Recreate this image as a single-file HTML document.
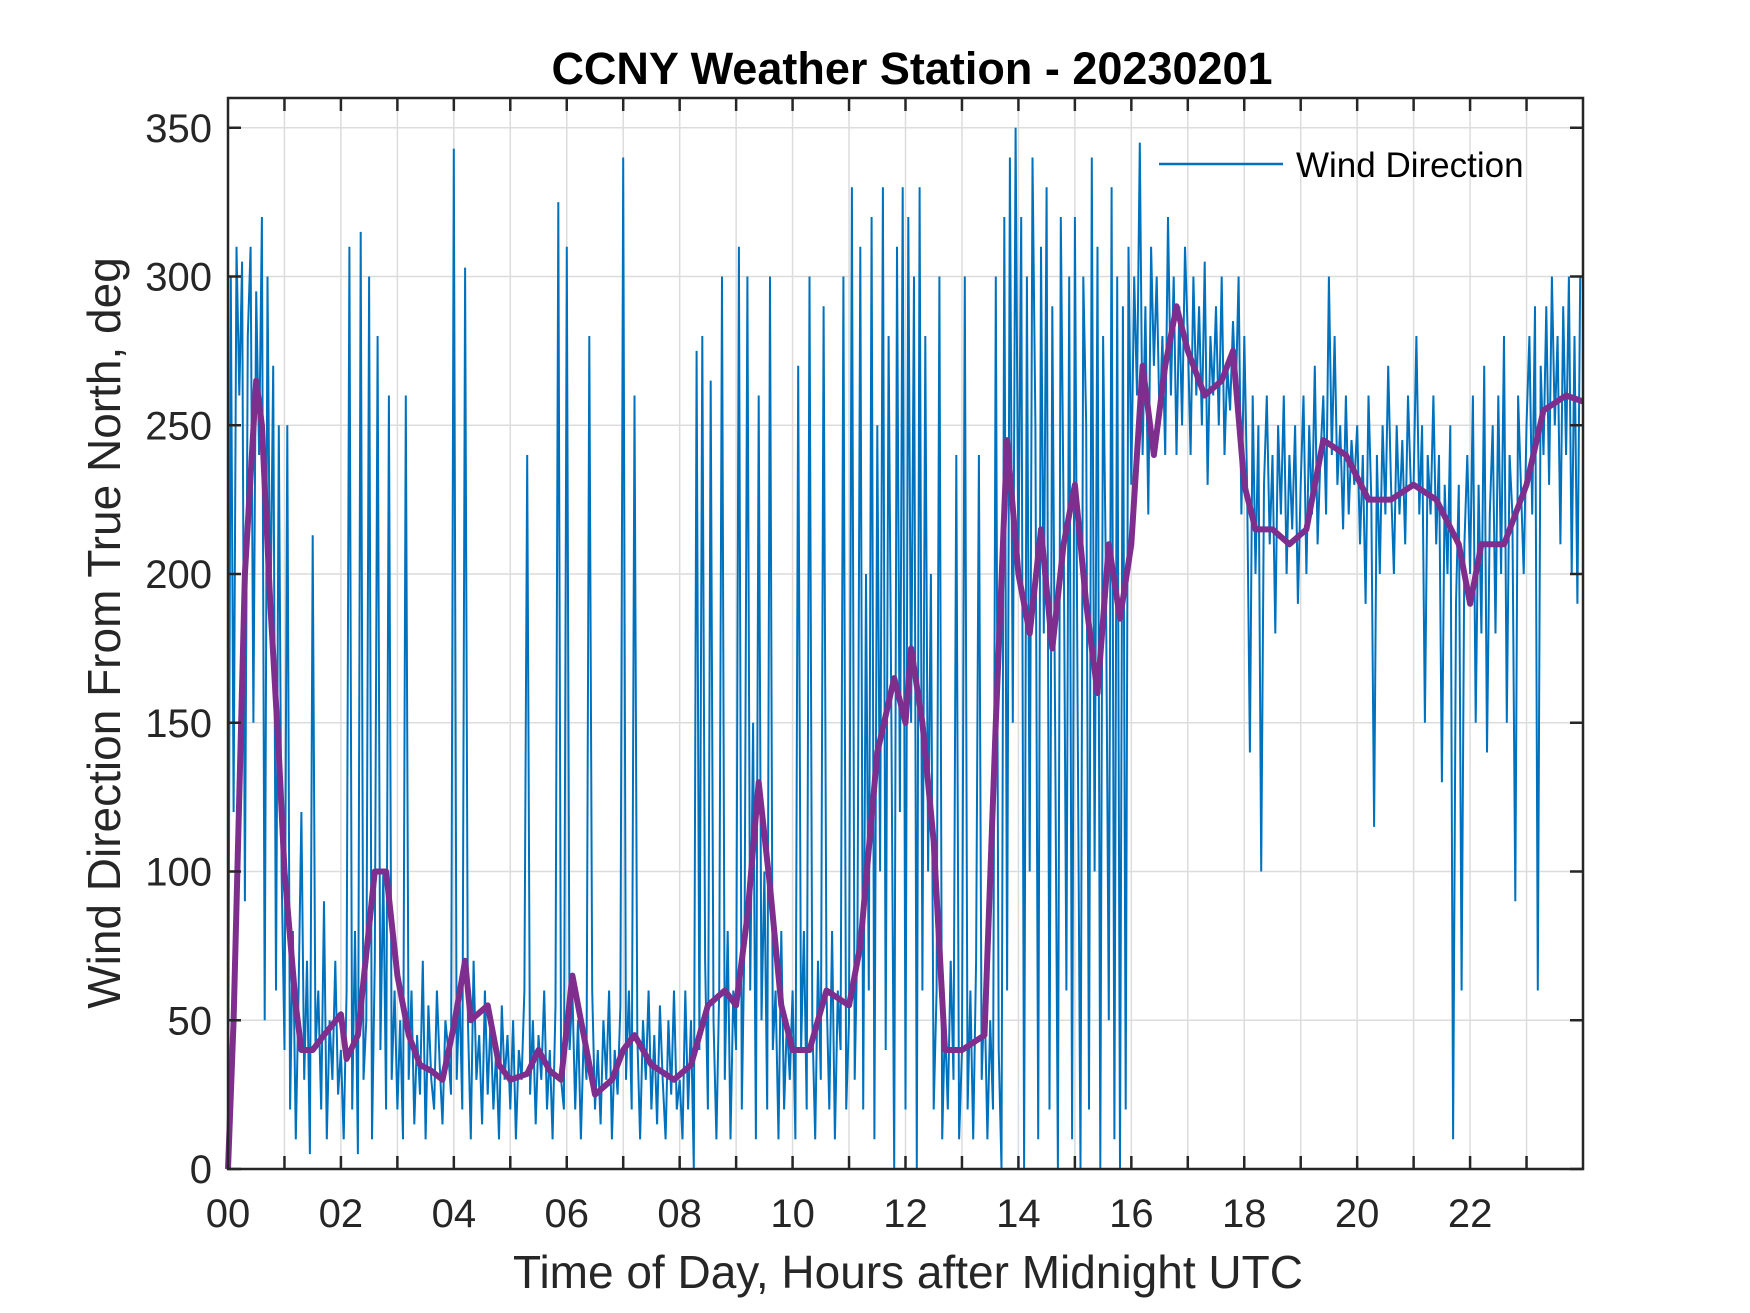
<!DOCTYPE html>
<html>
<head>
<meta charset="utf-8">
<style>
  html,body{margin:0;padding:0;background:#fff;}
  body{width:1750px;height:1313px;overflow:hidden;}
  svg{display:block;font-family:"Liberation Sans",Arial,sans-serif;}
</style>
</head>
<body>
<svg id="chart" width="1750" height="1313" viewBox="0 0 1750 1313" xmlns="http://www.w3.org/2000/svg">
  <rect x="0" y="0" width="1750" height="1313" fill="#ffffff"/>
  <text x="912" y="84" text-anchor="middle" font-size="45" font-weight="bold" fill="#000">CCNY Weather Station - 20230201</text>
  <g id="grid"></g>
  <g id="blue"></g>
  <g id="purple"></g>
  <g id="axes"></g>
  <text x="908" y="1288" text-anchor="middle" font-size="46" fill="#262626">Time of Day, Hours after Midnight UTC</text>
  <text transform="translate(120,633) rotate(-90)" text-anchor="middle" font-size="46" fill="#262626">Wind Direction From True North, deg</text>
  <g>
    <line x1="1159" y1="164" x2="1283" y2="164" stroke="#0072bd" stroke-width="2.5"/>
    <text x="1296" y="177" font-size="35" fill="#000">Wind Direction</text>
  </g>
</svg>
<script>
const xTicks = [0,2,4,6,8,10,12,14,16,18,20,22];
const xTickLabels = ["00","02","04","06","08","10","12","14","16","18","20","22"];
const yTicks = [0,50,100,150,200,250,300,350];
const yTickLabels = ["0","50","100","150","200","250","300","350"];
const samplesPerHour = 20;
const windDirection = [
0,300,120,310,260,305,90,280,310,150,295,240,320,50,300,180,270,60,250,100,
40,250,20,80,10,60,120,30,70,5,213,40,60,20,90,10,50,30,70,25,
40,10,60,310,20,80,5,315,30,50,300,10,70,280,40,100,20,260,30,60,
20,50,10,260,30,60,15,45,25,70,10,55,30,20,60,35,15,50,40,25,
343,30,60,20,303,50,10,70,30,45,15,60,25,50,20,40,10,55,30,45,
20,50,10,40,30,60,240,25,50,15,45,30,60,20,40,10,55,325,30,20,
310,40,60,20,50,10,45,30,280,60,20,40,15,50,30,60,10,40,25,55,
340,30,60,20,260,45,10,50,30,60,20,45,15,55,30,10,50,25,60,20,
30,10,60,20,50,0,275,40,280,70,20,265,50,10,60,300,30,80,10,60,
40,310,20,80,300,60,150,10,260,50,100,20,300,40,60,10,80,20,50,30,
60,10,270,40,80,20,300,50,10,70,30,290,60,20,80,10,60,40,300,20,
50,330,30,80,310,20,200,60,320,10,250,100,330,40,280,150,0,310,120,330,
20,320,150,300,0,330,60,280,100,200,20,60,300,10,50,20,70,30,240,10,
40,300,20,60,10,70,240,30,60,10,50,20,300,40,0,320,60,340,150,350,
200,320,0,300,100,340,250,10,310,180,330,20,290,150,0,320,220,60,300,10,
320,150,0,300,250,20,340,100,310,0,280,200,50,330,10,300,0,290,20,310,
230,300,260,345,240,290,220,310,270,300,250,280,240,320,260,300,240,290,250,310,
280,240,300,260,290,250,305,230,280,260,290,250,300,240,270,255,285,260,300,220,
280,230,140,260,200,250,100,230,260,210,240,180,250,220,260,200,240,215,250,190,
230,260,200,250,220,270,210,240,260,220,300,240,280,230,250,215,260,220,245,230,
250,210,240,190,260,225,115,240,200,250,220,270,230,200,250,220,245,210,260,230,
230,280,220,250,150,240,220,260,210,240,130,230,200,250,10,190,230,60,210,240,
200,260,150,230,180,270,140,220,250,180,260,200,280,150,240,220,90,260,230,200,
250,280,220,290,60,270,240,290,230,300,250,280,210,290,240,300,200,280,190,300
];
const smoothHours = [0,0.1,0.3,0.5,0.6,0.75,0.9,1.0,1.2,1.3,1.5,1.7,2.0,2.1,2.3,2.6,2.8,3.0,3.2,3.4,3.6,3.8,4.0,4.2,4.3,4.6,4.8,5.0,5.3,5.5,5.7,5.9,6.1,6.3,6.5,6.8,7.0,7.2,7.5,7.9,8.2,8.5,8.8,9.0,9.2,9.4,9.6,9.8,10.0,10.3,10.6,11.0,11.2,11.5,11.8,12.0,12.1,12.3,12.5,12.7,13.0,13.4,13.6,13.8,14.0,14.2,14.4,14.6,14.8,15.0,15.2,15.4,15.6,15.8,16.0,16.2,16.4,16.6,16.8,17.0,17.3,17.6,17.8,18.0,18.2,18.5,18.8,19.1,19.4,19.8,20.2,20.6,21.0,21.4,21.8,22.0,22.2,22.6,23.0,23.3,23.7,24.0];
const smoothValues = [0,50,200,265,250,190,140,100,55,40,40,45,52,37,45,100,100,65,45,35,33,30,48,70,50,55,35,30,32,40,33,30,65,45,25,30,40,45,35,30,35,55,60,55,85,130,95,55,40,40,60,55,75,140,165,150,175,150,110,40,40,45,150,245,200,180,215,175,210,230,190,160,210,185,210,270,240,270,290,275,260,265,275,230,215,215,210,215,245,240,225,225,230,225,210,190,210,210,230,255,260,258];

const NS="http://www.w3.org/2000/svg";
const L=228,R=1583,T=98,B=1169;
const X=h=>L+(h/24)*(R-L);
const Y=v=>B-(v/360)*(B-T);
function mk(tag,attrs,parent){const e=document.createElementNS(NS,tag);for(const k in attrs)e.setAttribute(k,attrs[k]);parent.appendChild(e);return e;}
const grid=document.getElementById('grid');
for(let h=1;h<24;h++){
  const g=mk('line',{x1:X(h),x2:X(h),y1:T,y2:B,stroke:'#dcdcdc','stroke-width':1.5},grid);
  
  
}
yTicks.forEach(v=>{
  if(v===0)return;
  const g=mk('line',{x1:L,x2:R,y1:Y(v),y2:Y(v),stroke:'#dcdcdc','stroke-width':1.5},grid);
  
  
});
let pts=windDirection.map((v,i)=>X(i/samplesPerHour).toFixed(1)+','+Y(v).toFixed(1)).join(' ');
const bl=mk('polyline',{points:pts,fill:'none',stroke:'#0072bd','stroke-width':2,'stroke-linejoin':'miter'},document.getElementById('blue'));


pts=smoothHours.map((h,i)=>X(h).toFixed(1)+','+Y(smoothValues[i]).toFixed(1)).join(' ');
const pl=mk('polyline',{points:pts,fill:'none',stroke:'#7e2f8e','stroke-width':6,'stroke-linejoin':'round'},document.getElementById('purple'));


const ax=document.getElementById('axes');
const box=mk('rect',{x:L,y:T,width:R-L,height:B-T,fill:'none',stroke:'#262626','stroke-width':2.5},ax);


for(let h=1;h<24;h++){
  const t1=mk('line',{x1:X(h),x2:X(h),y1:B,y2:B-13,stroke:'#262626','stroke-width':2.5},ax);
  
  
  const t2=mk('line',{x1:X(h),x2:X(h),y1:T,y2:T+13,stroke:'#262626','stroke-width':2.5},ax);
  
  
}
xTicks.forEach((h,i)=>{
  const t=mk('text',{x:X(h),y:1227,'text-anchor':'middle','font-size':40,fill:'#262626'},ax);
  t.textContent=xTickLabels[i];
  
  
});
yTicks.forEach((v,i)=>{
  const a=mk('line',{x1:L,x2:L+13,y1:Y(v),y2:Y(v),stroke:'#262626','stroke-width':2.5},ax);
  
  
  const b=mk('line',{x1:R,x2:R-13,y1:Y(v),y2:Y(v),stroke:'#262626','stroke-width':2.5},ax);
  
  
  const t=mk('text',{x:212,y:Y(v)+14,'text-anchor':'end','font-size':40,fill:'#262626'},ax);
  t.textContent=yTickLabels[i];
  
  
});
</script>
</body>
</html>
